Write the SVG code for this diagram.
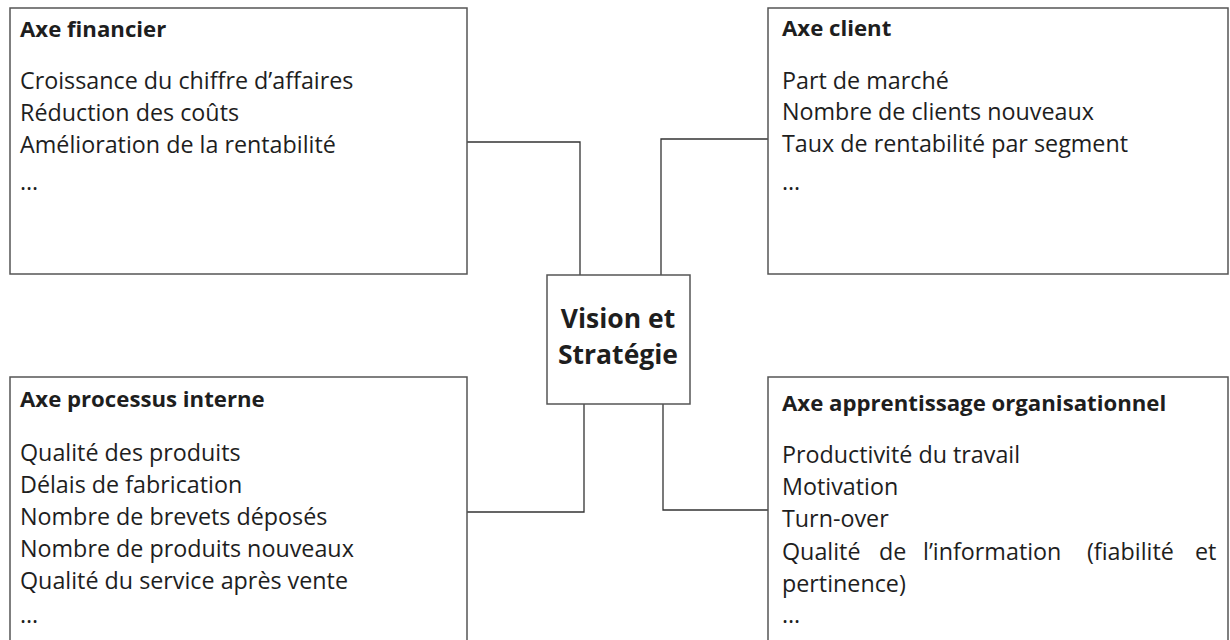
<svg xmlns="http://www.w3.org/2000/svg" width="1230" height="640" viewBox="0 0 1230 640">
<style>
.box{fill:#fff;stroke:#555;stroke-width:1.5}
.conn{fill:none;stroke:#333;stroke-width:1.3}
text{font-family:"Open Sans","Noto Sans","Liberation Sans",sans-serif;fill:#1e1e1e;font-size:23.3px;font-variant-ligatures:none}
.t{font-weight:bold;font-size:22.2px}
.c{font-weight:bold;font-size:26.5px;text-anchor:middle}
</style>
<rect width="1230" height="640" fill="#fff"/>
<g id="connectors">
<polyline class="conn" points="467,142 580,142 580,275"/>
<polyline class="conn" points="661,275 661,139 768,139"/>
<polyline class="conn" points="584,404 584,512 467,512"/>
<polyline class="conn" points="663,404 663,510 768,510"/>
</g>
<g id="axe-financier">
<rect class="box" x="10" y="8" width="457" height="266"/>
<text class="t" x="20" y="37">Axe financier</text>
<text x="20" y="89">Croissance du chiffre d’affaires</text>
<text x="20" y="121">Réduction des coûts</text>
<text x="20" y="153">Amélioration de la rentabilité</text>
<text x="20" y="190">…</text>
</g>
<g id="axe-client">
<rect class="box" x="768" y="8" width="460" height="266"/>
<text class="t" x="782" y="36">Axe client</text>
<text x="782" y="89">Part de marché</text>
<text x="782" y="120">Nombre de clients nouveaux</text>
<text x="782" y="152">Taux de rentabilité par segment</text>
<text x="782" y="190">…</text>
</g>
<g id="vision-strategie">
<rect class="box" x="547" y="275" width="143" height="129"/>
<text class="c" x="618" y="328">Vision et</text>
<text class="c" x="618" y="364">Stratégie</text>
</g>
<g id="axe-processus">
<rect class="box" x="10" y="377" width="457" height="290"/>
<text class="t" x="20" y="407">Axe processus interne</text>
<text x="20" y="461">Qualité des produits</text>
<text x="20" y="493">Délais de fabrication</text>
<text x="20" y="525">Nombre de brevets déposés</text>
<text x="20" y="557">Nombre de produits nouveaux</text>
<text x="20" y="589">Qualité du service après vente</text>
<text x="20" y="623">…</text>
</g>
<g id="axe-apprentissage">
<rect class="box" x="768" y="377" width="460" height="290"/>
<text class="t" x="782" y="411">Axe apprentissage organisationnel</text>
<text x="782" y="463">Productivité du travail</text>
<text x="782" y="495">Motivation</text>
<text x="782" y="527">Turn-over</text>
<text x="782" y="560">Qualité</text>
<text x="879" y="560">de</text>
<text x="923" y="560">l’information</text>
<text x="1087" y="560">(fiabilité</text>
<text x="1195" y="560">et</text>
<text x="782" y="592">pertinence)</text>
<text x="782" y="623">…</text>
</g>
</svg>
